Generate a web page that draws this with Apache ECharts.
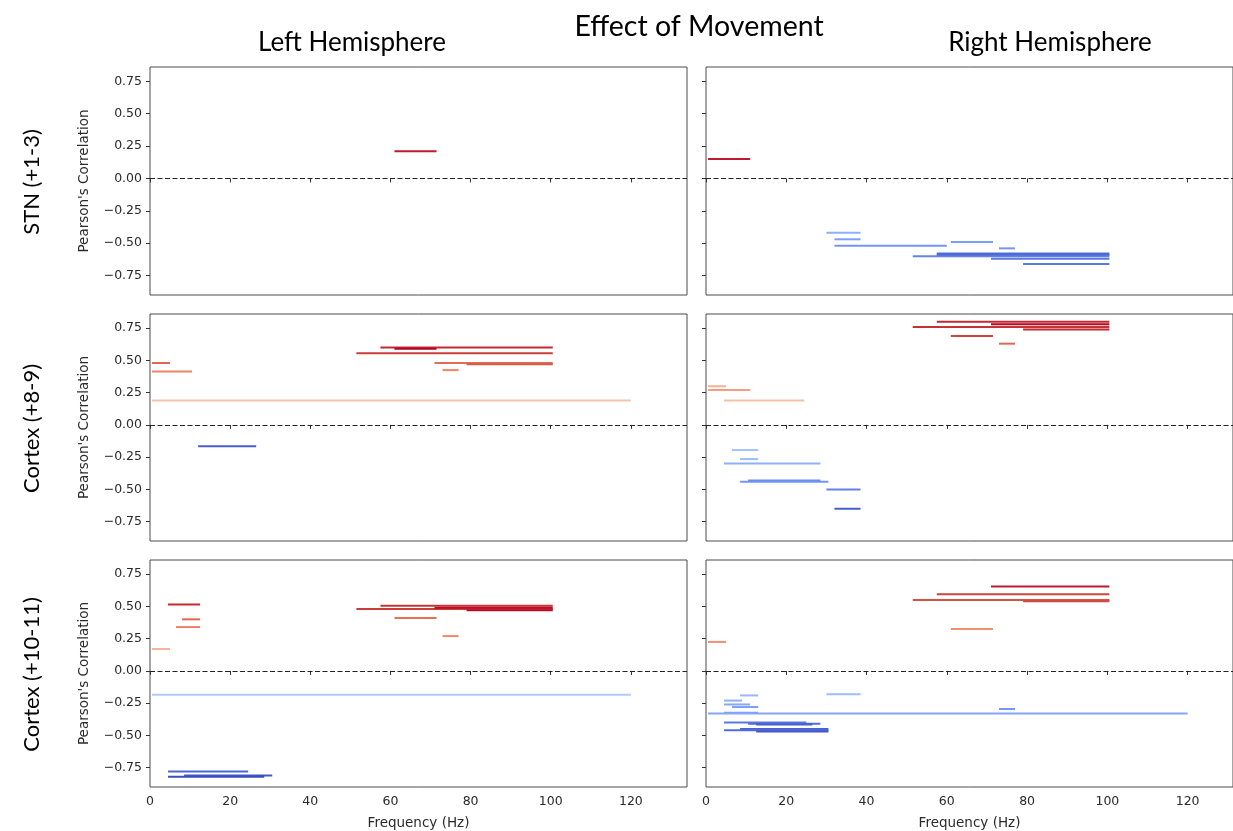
<!DOCTYPE html>
<html>
<head>
<meta charset="utf-8">
<script src="https://cdn.jsdelivr.net/npm/echarts@6/dist/echarts.min.js"></script>
<style>
  html, body { margin: 0; padding: 0; background: #ffffff; }
  #chart { width: 1233px; height: 831px; }
</style>
</head>
<body>
<div id="chart"></div>
<script>
// Significant frequency bands: [start Hz, end Hz, Pearson's r, strength (-1..1, drives colour)]
const stnLeft = [
  [61, 71.5, 0.21, 0.95]
];
const stnRight = [
  [0.5, 11, 0.15, 0.95],
  [30, 38.5, -0.42, -0.5],
  [32, 38.5, -0.47, -0.6],
  [32, 60, -0.52, -0.65],
  [61, 71.5, -0.49, -0.6],
  [73, 77, -0.54, -0.65],
  [51.5, 100.5, -0.60, -0.75],
  [57.5, 100.5, -0.58, -0.85],
  [57.5, 100.5, -0.59, -0.88],
  [71, 100.5, -0.62, -0.8],
  [79, 100.5, -0.66, -0.8]
];
const cortex89Left = [
  [0.5, 5, 0.48, 0.72],
  [0.5, 10.5, 0.415, 0.6],
  [0.5, 120, 0.19, 0.26],
  [12, 26.5, -0.165, -0.92],
  [57.5, 100.5, 0.60, 0.92],
  [61, 71.5, 0.59, 1.0],
  [51.5, 100.5, 0.555, 0.88],
  [71, 100.5, 0.48, 0.7],
  [79, 100.5, 0.47, 0.78],
  [73, 77, 0.425, 0.6]
];
const cortex89Right = [
  [57.5, 100.5, 0.80, 0.92],
  [51.5, 100.5, 0.76, 0.9],
  [71, 100.5, 0.78, 1.0],
  [79, 100.5, 0.74, 0.92],
  [61, 71.5, 0.69, 0.85],
  [73, 77, 0.63, 0.72],
  [0.5, 5, 0.30, 0.38],
  [0.5, 11, 0.27, 0.48],
  [4.5, 24.5, 0.19, 0.28],
  [6.5, 13, -0.195, -0.38],
  [8.5, 13, -0.265, -0.42],
  [4.5, 28.5, -0.30, -0.5],
  [8.5, 30.5, -0.44, -0.65],
  [10.5, 28.5, -0.43, -0.7],
  [30, 38.5, -0.50, -0.75],
  [32, 38.5, -0.65, -0.92]
];
const cortex1011Left = [
  [4.5, 12.5, 0.515, 0.92],
  [8, 12.5, 0.40, 0.72],
  [6.5, 12.5, 0.34, 0.62],
  [0.5, 5, 0.17, 0.35],
  [0.5, 120, -0.185, -0.3],
  [4.5, 24.5, -0.78, -0.88],
  [8.5, 30.5, -0.81, -0.95],
  [4.5, 28.5, -0.82, -1.0],
  [57.5, 100.5, 0.505, 0.9],
  [51.5, 100.5, 0.48, 0.88],
  [71, 100.5, 0.49, 0.98],
  [79, 100.5, 0.47, 0.98],
  [61, 71.5, 0.41, 0.68],
  [73, 77, 0.27, 0.58]
];
const cortex1011Right = [
  [71, 100.5, 0.655, 0.95],
  [57.5, 100.5, 0.595, 0.85],
  [51.5, 100.5, 0.55, 0.8],
  [79, 100.5, 0.54, 0.84],
  [61, 71.5, 0.325, 0.55],
  [0.5, 5, 0.225, 0.55],
  [30, 38.5, -0.18, -0.42],
  [8.5, 13, -0.19, -0.45],
  [4.5, 9, -0.23, -0.5],
  [4.5, 11, -0.26, -0.55],
  [6.5, 13, -0.28, -0.6],
  [4.5, 13, -0.325, -0.6],
  [0.5, 120, -0.33, -0.55],
  [73, 77, -0.295, -0.65],
  [4.5, 25, -0.40, -0.8],
  [10.5, 28.5, -0.41, -0.85],
  [12.5, 26.5, -0.415, -0.92],
  [8.5, 30.5, -0.45, -0.9],
  [4.5, 30.5, -0.46, -0.85],
  [12.5, 30.5, -0.47, -0.95]
];

const freqTicks = [0, 20, 40, 60, 80, 100, 120];
const rTicks = [-0.75, -0.5, -0.25, 0, 0.25, 0.5, 0.75];
const regionNames = ['STN (+1-3)', 'Cortex (+8-9)', 'Cortex (+10-11)'];
const hemisphereNames = ['Left Hemisphere', 'Right Hemisphere'];
const panels = [
  [stnLeft, stnRight],
  [cortex89Left, cortex89Right],
  [cortex1011Left, cortex1011Right]
];

// Cool-warm diverging colormap
const coolwarmStops = [
  [59, 76, 192], [77, 104, 215], [98, 130, 234], [119, 154, 247],
  [141, 176, 254], [163, 194, 255], [184, 208, 249], [204, 217, 238],
  [221, 221, 221], [236, 211, 197], [245, 196, 172], [247, 177, 147],
  [244, 154, 123], [236, 127, 99], [222, 96, 77], [203, 62, 56],
  [180, 4, 38]
];
function coolwarm(s) {
  const t = Math.max(0, Math.min(1, (s + 1) / 2)) * (coolwarmStops.length - 1);
  const i = Math.min(Math.floor(t), coolwarmStops.length - 2);
  const f = t - i;
  const a = coolwarmStops[i], b = coolwarmStops[i + 1];
  const c = a.map((v, k) => Math.round(v + (b[k] - v) * f));
  return 'rgb(' + c.join(',') + ')';
}

function renderBand(params, api) {
  const p0 = api.coord([api.value(0), api.value(2)]);
  const p1 = api.coord([api.value(1), api.value(2)]);
  return {
    type: 'line',
    shape: { x1: p0[0], y1: p0[1], x2: p1[0], y2: p1[1] },
    style: { stroke: coolwarm(api.value(3)), lineWidth: 2 }
  };
}

// Shared frequency scale (~4.01 px/Hz); the right column runs off the page edge
const colLeft = [150, 706];
const colWidth = [537, 527];
const colMaxHz = [134, 131.3];
const rowTop = [67, 314, 560];
const rowHeight = [228, 227, 227];
const fmtR = v => (v < 0 ? '\u2212' : '') + Math.abs(v).toFixed(2);
const smallFont = 'DejaVu Sans';

const grid = [], xAxis = [], yAxis = [], series = [];
panels.forEach((row, r) => {
  row.forEach((bands, c) => {
    const idx = grid.length;
    grid.push({
      left: colLeft[c], top: rowTop[r], width: colWidth[c], height: rowHeight[r],
      show: true, borderColor: '#4a4a4a', borderWidth: 1, backgroundColor: 'transparent'
    });
    const bottomRow = r === panels.length - 1;
    xAxis.push({
      type: 'value', gridIndex: idx, min: 0, max: colMaxHz[c],
      splitLine: { show: false },
      axisLine: { show: false },
      axisTick: { show: true, length: 4, customValues: freqTicks, lineStyle: { color: '#333' } },
      axisLabel: {
        show: bottomRow, customValues: freqTicks, margin: 8,
        fontFamily: smallFont, fontSize: 12.5, color: '#2a2a2a'
      },
      name: bottomRow ? 'Frequency (Hz)' : '',
      nameLocation: 'middle', nameGap: 29,
      nameTextStyle: { fontFamily: smallFont, fontSize: 13.5, color: '#2a2a2a' }
    });
    yAxis.push({
      type: 'value', gridIndex: idx, min: -0.9, max: 0.86,
      splitLine: { show: false },
      axisLine: { show: false },
      axisTick: { show: true, length: 4, customValues: rTicks, lineStyle: { color: '#333' } },
      axisLabel: {
        show: c === 0, customValues: rTicks, margin: 8, formatter: fmtR,
        fontFamily: smallFont, fontSize: 12.5, color: '#2a2a2a'
      },
      name: c === 0 ? "Pearson's Correlation" : '',
      nameLocation: 'middle', nameGap: 59, nameRotate: 90,
      nameTextStyle: { fontFamily: smallFont, fontSize: 13.5, color: '#2a2a2a' }
    });
    series.push({
      type: 'custom', xAxisIndex: idx, yAxisIndex: idx,
      renderItem: renderBand, clip: true, silent: true,
      encode: { x: [0, 1], y: 2 },
      data: bands,
      markLine: {
        silent: true, symbol: 'none', animation: false,
        label: { show: false },
        lineStyle: { color: '#222', width: 1.2, type: [5, 2.5] },
        data: [{ yAxis: 0 }]
      }
    });
  });
});

const headerFont = 'Lato, "Open Sans", sans-serif';
const centered = { fill: '#000', textAlign: 'center', textVerticalAlign: 'middle' };
const graphic = [
  { type: 'text', x: 699, y: 27, style: Object.assign({ text: 'Effect of Movement', font: '28.5px ' + headerFont }, centered) },
  { type: 'text', x: 352, y: 43, style: Object.assign({ text: hemisphereNames[0], font: '26px ' + headerFont }, centered) },
  { type: 'text', x: 1050, y: 43, style: Object.assign({ text: hemisphereNames[1], font: '26px ' + headerFont }, centered) }
];
regionNames.forEach((name, r) => {
  graphic.push({
    type: 'text', x: 32, y: rowTop[r] + rowHeight[r] / 2 + 1, rotation: Math.PI / 2,
    style: Object.assign({ text: name, font: '22px ' + headerFont }, centered)
  });
});

const chart = echarts.init(document.getElementById('chart'), null, { renderer: 'canvas' });
chart.setOption({
  backgroundColor: '#ffffff',
  animation: false,
  grid, xAxis, yAxis, series, graphic
});
</script>
</body>
</html>
